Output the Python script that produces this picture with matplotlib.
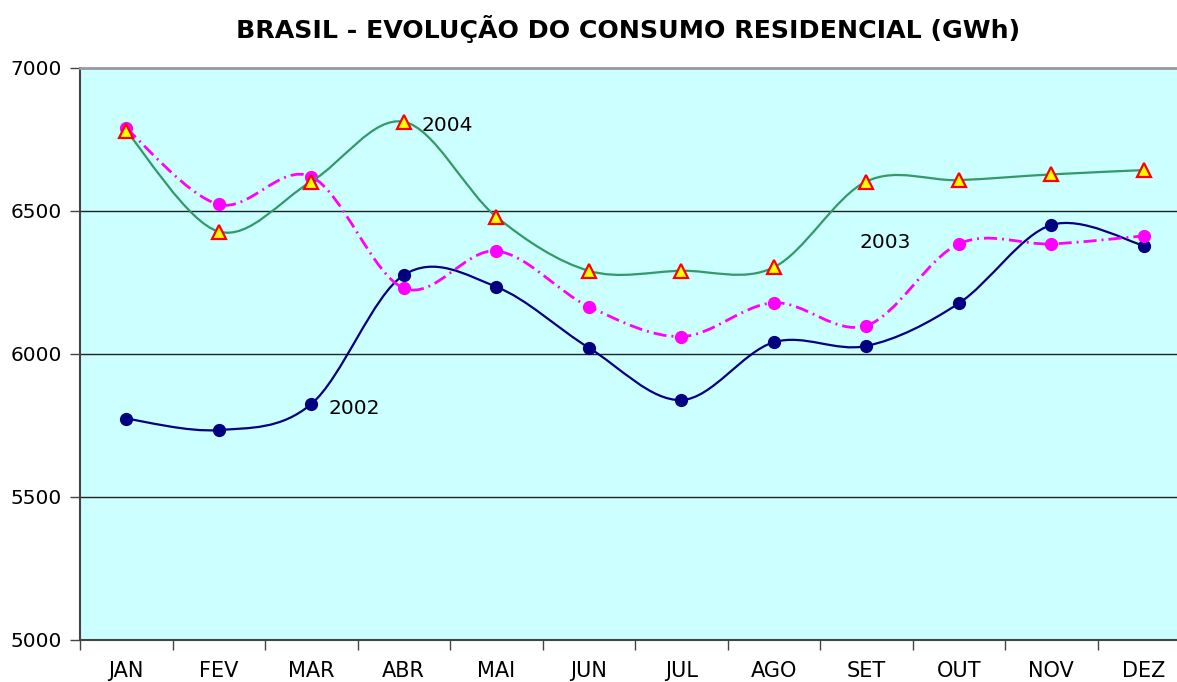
import matplotlib
matplotlib.use("Agg")
import matplotlib.pyplot as plt
from matplotlib.path import Path
from matplotlib.patches import PathPatch
import numpy as np

meses = ["JAN", "FEV", "MAR", "ABR", "MAI", "JUN",
         "JUL", "AGO", "SET", "OUT", "NOV", "DEZ"]
consumo_2002 = [5774, 5734, 5825, 6276, 6235, 6022, 5839, 6041, 6028, 6177, 6451, 6379]
consumo_2003 = [6789, 6523, 6620, 6230, 6360, 6166, 6061, 6179, 6099, 6385, 6385, 6413]
consumo_2004 = [6780, 6428, 6603, 6812, 6480, 6291, 6291, 6303, 6603, 6608, 6628, 6643]


def smooth_path(xs, ys):
    # excel style smoothed line: cubic bezier between the points
    p = np.column_stack([xs, ys]).astype(float)
    n = len(p)
    verts = [p[0]]
    codes = [Path.MOVETO]
    for i in range(n - 1):
        prev = p[i - 1] if i > 0 else p[i]
        nxt = p[i + 2] if i + 2 < n else p[i + 1]
        c1 = p[i] + (p[i + 1] - prev) / 6.0
        c2 = p[i + 1] - (nxt - p[i]) / 6.0
        verts += [c1, c2, p[i + 1]]
        codes += [Path.CURVE4] * 3
    return Path(verts, codes)


fig = plt.figure(figsize=(11.77, 6.82), dpi=100)
ax = fig.add_axes([80 / 1177, 1 - 640 / 682, 1110 / 1177, 572 / 682])
ax.set_facecolor("#CCFFFF")

x = np.arange(len(meses))

ax.add_patch(PathPatch(smooth_path(x, consumo_2002), fill=False,
                       edgecolor="#000080", lw=1.6, zorder=3))
ax.plot(x, consumo_2002, "o", color="#000080", ms=8.5, zorder=4)

ax.add_patch(PathPatch(smooth_path(x, consumo_2003), fill=False,
                       edgecolor="#FF00FF", lw=2, zorder=5,
                       linestyle=(0, (4.7, 1.8, 0.7, 1.8))))
ax.plot(x, consumo_2003, "o", color="#FF00FF", ms=8.5, zorder=6)

ax.add_patch(PathPatch(smooth_path(x, consumo_2004), fill=False,
                       edgecolor="#339966", lw=1.6, zorder=7))
ax.plot(x, consumo_2004, "^", color="#FFFF00", mec="#FF0000", mew=1.6,
        ms=9.5, zorder=8)

ax.text(3.19, 6800, "2004", fontsize=14.5, va="center", ha="left", zorder=9)
ax.text(7.93, 6390, "2003", fontsize=14.5, va="center", ha="left", zorder=9)
ax.text(2.19, 5810, "2002", fontsize=14.5, va="center", ha="left", zorder=9)

ax.set_xlim(-0.5, 11.5)
ax.set_ylim(5000, 7000)
ax.set_yticks([5000, 5500, 6000, 6500, 7000])
ax.tick_params(axis="y", labelsize=14.5, length=7, width=1, color="#444444", pad=6)

ax.set_xticks(np.arange(-0.5, 12, 1))
ax.set_xticklabels([])
ax.set_xticks(x, minor=True)
ax.set_xticklabels(meses, minor=True, fontsize=15)
ax.tick_params(axis="x", which="major", length=7, width=1, color="#444444")
ax.tick_params(axis="x", which="minor", length=0, pad=15)

for v in [5500, 6000, 6500]:
    ax.axhline(v, color="#222222", lw=1, zorder=1)

ax.spines["top"].set_color("#999999")
ax.spines["top"].set_linewidth(2)
ax.spines["left"].set_color("#444444")
ax.spines["left"].set_linewidth(1.5)
ax.spines["bottom"].set_color("#444444")
ax.spines["bottom"].set_linewidth(1.5)
ax.spines["right"].set_visible(False)

fig.text(628 / 1177, 1 - 29 / 682, "BRASIL - EVOLUÇÃO DO CONSUMO RESIDENCIAL (GWh)",
         fontsize=18.2, fontweight="bold", ha="center", va="center")

fig.savefig("out.png", dpi=100)
